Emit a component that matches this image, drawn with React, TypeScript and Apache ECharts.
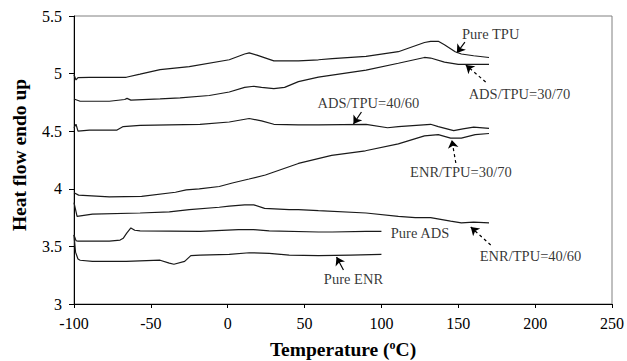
import React, { useEffect, useRef } from "react";
import * as echarts from "echarts";

// DSC traces: [temperature °C, heat flow]
const pureTPU: number[][] = [
  [-100, 4.99], [-98.7, 4.945], [-97.4, 4.965], [-90, 4.967], [-66, 4.968], [-57, 4.995],
  [-44, 5.035], [-25, 5.06], [1, 5.12], [11, 5.17], [14, 5.18], [19, 5.16], [30, 5.11],
  [46, 5.11], [59, 5.12], [68, 5.13], [90, 5.15], [111, 5.19], [128, 5.27], [132, 5.28],
  [137, 5.28], [141, 5.25], [148, 5.19], [152, 5.17], [160, 5.155], [170, 5.14],
];
const adsTpu3070: number[][] = [
  [-100, 4.78], [-96, 4.76], [-77, 4.76], [-67, 4.775], [-65.5, 4.785], [-63, 4.77],
  [-44, 4.78], [-31, 4.79], [-12, 4.81], [1, 4.84], [11, 4.88], [17, 4.89], [22, 4.88],
  [30, 4.87], [37, 4.88], [46, 4.93], [59, 4.97], [90, 5.03], [111, 5.09], [128, 5.14],
  [132, 5.135], [141, 5.1], [150, 5.08], [154, 5.08], [170, 5.08],
];
const adsTpu4060: number[][] = [
  [-100, 4.53], [-98.7, 4.56], [-97.4, 4.5], [-90, 4.51], [-72, 4.51], [-68, 4.54],
  [-57, 4.55], [-38, 4.555], [-18, 4.56], [1, 4.58], [14, 4.61], [22, 4.59], [30, 4.56],
  [46, 4.555], [59, 4.555], [90, 4.56], [104, 4.53], [111, 4.54], [132, 4.56], [137, 4.54],
  [147, 4.505], [153, 4.52], [160, 4.535], [170, 4.525],
];
const enrTpu3070: number[][] = [
  [-100, 3.965], [-97, 3.945], [-77, 3.93], [-56, 3.935], [-34, 3.97], [-27, 3.99],
  [-18.5, 4.0], [-5.5, 4.02], [3, 4.05], [13.9, 4.085], [24.5, 4.12], [46, 4.22],
  [67.6, 4.29], [89.6, 4.33], [111, 4.39], [128, 4.46], [137, 4.47], [145, 4.44],
  [152, 4.44], [161, 4.47], [170, 4.48],
];
const enrTpu4060: number[][] = [
  [-100, 3.88], [-98, 3.76], [-88, 3.78], [-57, 3.79], [-38, 3.8], [-25, 3.82],
  [-5.5, 3.84], [1, 3.85], [11, 3.86], [17, 3.86], [24, 3.83], [40, 3.82], [46, 3.82],
  [59, 3.81], [90, 3.79], [111, 3.76], [122, 3.75], [132, 3.75], [145, 3.72],
  [152, 3.705], [160, 3.71], [170, 3.705],
];
const pureADS: number[][] = [
  [-100, 3.6], [-98.7, 3.55], [-97.4, 3.545], [-77, 3.545], [-70, 3.555], [-68, 3.57],
  [-65.7, 3.615], [-63, 3.66], [-60.5, 3.64], [-57, 3.635], [-18, 3.63], [7, 3.645],
  [17, 3.645], [27, 3.635], [59, 3.625], [68, 3.625], [90, 3.63], [100, 3.63],
];
const pureENR: number[][] = [
  [-100, 3.6], [-99, 3.45], [-97.4, 3.39], [-96, 3.38], [-88, 3.37], [-66, 3.37],
  [-44, 3.38], [-38, 3.355], [-35, 3.345], [-28, 3.37], [-24, 3.42], [-18, 3.425],
  [1, 3.43], [14, 3.445], [27, 3.44], [40, 3.425], [59, 3.42], [80, 3.425], [100, 3.43],
];

const traces = [pureTPU, adsTpu3070, adsTpu4060, enrTpu3070, enrTpu4060, pureADS, pureENR];

// Curve labels: text and [x, y] centre
const labelTexts = ["Pure TPU", "ADS/TPU=30/70", "ADS/TPU=40/60", "ENR/TPU=30/70", "Pure ADS", "ENR/TPU=40/60", "Pure ENR"];
const labelPos: number[][] = [
  [171.1, 5.344], [189.8, 4.823], [91.5, 4.745], [151.7, 4.146], [125.1, 3.616], [197, 3.417], [81.8, 3.217],
];

// Pointer arrows: tail -> head, dashed flag
const arrowFrom: number[][] = [
  [154.3, 5.274], [167.8, 4.927], [87.0, 4.667], [148.4, 4.224], [171.1, 3.512], [75.3, 3.295],
];
const arrowTo: number[][] = [
  [149.1, 5.179], [154.9, 5.075], [81.8, 4.5625], [145.8, 4.424], [158.1, 3.668], [70.8, 3.408],
];
const arrowDashed = [false, true, false, true, true, false];

const xTicks = { min: -100, max: 250, step: 50 };
const yTicks = { min: 3, max: 5.5, step: 0.5 };

const serif = "Liberation Serif";

export default function App() {
  const ref = useRef<HTMLDivElement>(null);

  useEffect(() => {
    if (!ref.current) return;
    const chart = echarts.init(ref.current, undefined, { renderer: "svg" });

    const lineSeries = traces.map((d) => ({
      type: "line",
      data: d,
      symbol: "none",
      silent: true,
      lineStyle: { color: "#1a1a1a", width: 1.2 },
    }));

    const arrowSeries = arrowFrom.map((from, i) => ({
      type: "lines",
      coordinateSystem: "cartesian2d",
      silent: true,
      symbol: ["none", "arrow"],
      symbolSize: [0, 8],
      lineStyle: {
        color: "#000",
        width: 1.2,
        type: arrowDashed[i] ? [3, 3] : "solid",
        opacity: 1,
      },
      data: [{ coords: [from, arrowTo[i]] }],
    }));

    const labelSeries = {
      type: "scatter",
      silent: true,
      symbolSize: 0,
      data: labelPos.map((p, i) => ({ value: p, name: labelTexts[i] })),
      label: {
        show: true,
        position: "inside",
        formatter: (p: any) => p.name,
        color: "#000",
        fontFamily: serif,
        fontSize: 14.5,
      },
    };

    chart.setOption({
      animation: false,
      grid: {
        left: 74,
        right: 12,
        top: 16,
        bottom: 57,
        show: true,
        borderColor: "#808080",
        borderWidth: 1,
        backgroundColor: "transparent",
      },
      xAxis: {
        type: "value",
        min: xTicks.min,
        max: xTicks.max,
        interval: xTicks.step,
        splitLine: { show: false },
        axisLine: { show: true, onZero: false, lineStyle: { color: "#000", width: 1 } },
        axisTick: { show: true, inside: false, length: 4, lineStyle: { color: "#000" } },
        axisLabel: { color: "#000", fontFamily: serif, fontSize: 16, margin: 11 },
      },
      yAxis: {
        type: "value",
        min: yTicks.min,
        max: yTicks.max,
        interval: yTicks.step,
        splitLine: { show: false },
        axisLine: { show: true, onZero: false, lineStyle: { color: "#000", width: 1 } },
        axisTick: { show: true, inside: false, length: 5, lineStyle: { color: "#000" } },
        axisLabel: { color: "#000", fontFamily: serif, fontSize: 16, margin: 12 },
      },
      graphic: [
        {
          type: "text",
          x: 19,
          y: 155,
          rotation: Math.PI / 2,
          style: {
            text: "Heat flow endo up",
            font: `bold 19.5px ${serif}`,
            fill: "#000",
            textAlign: "center",
            textVerticalAlign: "middle",
          },
        },
        {
          type: "text",
          x: 343,
          y: 349,
          style: {
            text: "Temperature ({sup|o}C)",
            font: `bold 19.5px ${serif}`,
            fill: "#000",
            textAlign: "center",
            textVerticalAlign: "middle",
            rich: {
              sup: {
                font: `bold 12px ${serif}`,
                fill: "#000",
                verticalAlign: "top",
                padding: [0, 0, 9, 0],
              },
            },
          },
        },
      ],
      series: [...lineSeries, ...arrowSeries, labelSeries],
    });

    return () => chart.dispose();
  }, []);

  return (
    <div
      ref={ref}
      style={{ position: "fixed", left: 0, top: 0, width: 627, height: 361, background: "#fff" }}
    />
  );
}
